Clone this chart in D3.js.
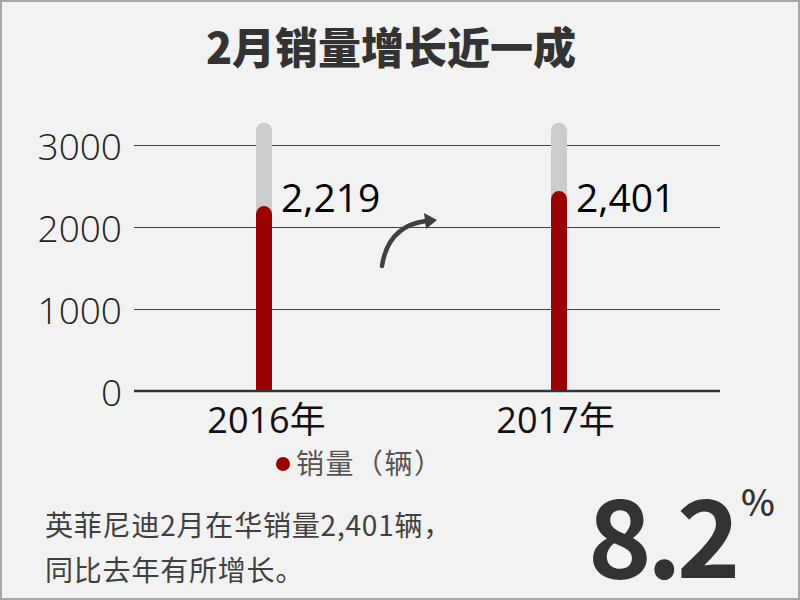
<!DOCTYPE html>
<html><head><meta charset="utf-8">
<script src="https://cdn.jsdelivr.net/npm/d3@7"></script>
<style>
html,body{margin:0;padding:0;background:#f2f2f2;}
svg{display:block;}
</style></head>
<body>
<svg id="c" width="800" height="600"></svg>
<script>
const categories = ["2016年", "2017年"];
const sales = [2219, 2401];
const salesLabels = ["2,219", "2,401"];
const trackMax = [3270, 3270];
const yTicks = [0, 1000, 2000, 3000];
const title = "2月销量增长近一成";
const legendLabel = "销量（辆）";
const noteLines = ["英菲尼迪2月在华销量2,401辆，", "同比去年有所增长。"];
const bigValue = "8.2";

const svg = d3.select("#c");
const W = 800, H = 600;
svg.append("rect").attr("x",1).attr("y",1).attr("width",W-2).attr("height",H-2)
  .attr("fill","#f2f2f2").attr("stroke","#a6a6a6").attr("stroke-width",2);

const cjk = "'Noto Sans CJK SC', 'Noto Sans', sans-serif";
const num = "'Open Sans', 'Noto Sans CJK SC', sans-serif";

svg.append("text").attr("x",391).attr("y",64).attr("text-anchor","middle")
  .attr("font-family",cjk).attr("font-weight",900).attr("font-size",43)
  .attr("fill","#333").text(title);

const plotL = 134, plotR = 720;
const y = d3.scaleLinear().domain([0,3000]).range([391,145]);
const x = d3.scalePoint().domain(categories).range([plotL+130, plotR-161]);

// gridlines
const grid = svg.append("g").attr("transform",`translate(${plotL},0)`)
  .call(d3.axisLeft(y).tickValues(yTicks.filter(d=>d>0)).tickSize(-(plotR-plotL)).tickFormat(""));
grid.select(".domain").remove();
grid.selectAll(".tick line").attr("stroke","#404040").attr("stroke-width",1.2);

// y tick labels
const yAxis = svg.append("g").attr("transform",`translate(${plotL},0)`)
  .call(d3.axisLeft(y).tickValues(yTicks).tickSize(0).tickPadding(12).tickFormat(d3.format("d")));
yAxis.select(".domain").remove();
yAxis.selectAll("text").attr("font-family",num).attr("font-weight",300)
  .attr("font-size",37).attr("fill","#222").attr("dy","0.4em");

const bw = 16, r = bw/2;
function capPath(cx, yTop, yBot){
  return `M${cx-r},${yBot}L${cx-r},${yTop+r}A${r},${r} 0 0 1 ${cx+r},${yTop+r}L${cx+r},${yBot}Z`;
}
svg.append("g").selectAll("path").data(categories).join("path")
  .attr("d",(d,i)=>capPath(x(d), y(trackMax[i]), y(0)))
  .attr("fill","#cccccc");
svg.append("g").selectAll("path").data(categories).join("path")
  .attr("d",(d,i)=>capPath(x(d), y(sales[i])-3, y(0)))
  .attr("fill","#990000");

// baseline
svg.append("line").attr("x1",plotL).attr("x2",plotR).attr("y1",y(0)).attr("y2",y(0))
  .attr("stroke","#333").attr("stroke-width",2.5);

// value labels
svg.append("g").selectAll("text").data(categories).join("text")
  .attr("x",d=>x(d)+17).attr("y",212)
  .attr("font-family",num).attr("font-size",39).attr("fill","#000")
  .text((d,i)=>salesLabels[i]);

// x labels
const xAxis = svg.append("g").attr("transform",`translate(0,${y(0)})`)
  .call(d3.axisBottom(x).tickSize(0).tickPadding(10));
xAxis.select(".domain").remove();
xAxis.selectAll("text").attr("font-family",num).attr("font-size",36)
  .attr("fill","#111").attr("dy","0.9em")
  .attr("dx",(d,i)=>i===0?2:-4);

// arrow
svg.append("path").attr("d","M382,266 Q388,226 426,221")
  .attr("fill","none").attr("stroke","#404040").attr("stroke-width",4.5).attr("stroke-linecap","round");
svg.append("path").attr("d","M424,213 L437,220 L426,229 Z").attr("fill","#404040");

// legend
svg.append("circle").attr("cx",283).attr("cy",464).attr("r",7).attr("fill","#990000");
svg.append("text").attr("x",296).attr("y",474).attr("font-family",cjk)
  .attr("font-size",28).attr("letter-spacing",1.5).attr("fill","#555").text(legendLabel);

// note
svg.append("g").selectAll("text").data(noteLines).join("text")
  .attr("x",45).attr("y",(d,i)=>536+i*45)
  .attr("font-family",cjk).attr("font-size",28).attr("letter-spacing",0.8).attr("fill","#404040")
  .text(d=>d);

// big value
svg.append("text").attr("x",588).attr("y",578).attr("font-family",cjk)
  .attr("font-weight",700).attr("font-size",108).attr("fill","#333")
  .attr("letter-spacing",-5).text(bigValue);
svg.append("text").attr("x",741).attr("y",516).attr("font-family",cjk)
  .attr("font-weight",500).attr("font-size",36).attr("fill","#333").text("%");
</script>
</body></html>
